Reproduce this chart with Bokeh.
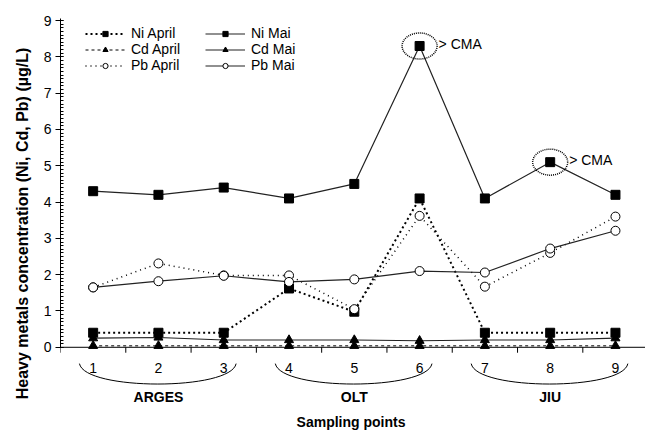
import math
from bokeh.plotting import figure
from bokeh.models import Range1d, Span, Title, Legend, LegendItem, FixedTicker
from bokeh.core.properties import value
from bokeh.embed import file_html
from bokeh.resources import INLINE

points = [1, 2, 3, 4, 5, 6, 7, 8, 9]
point_labels = ["1", "2", "3", "4", "5", "6", "7", "8", "9"]
ni_april = [0.4, 0.4, 0.4, 1.62, 0.98, 4.1, 0.4, 0.4, 0.4]
ni_mai = [4.3, 4.2, 4.4, 4.1, 4.5, 8.3, 4.1, 5.1, 4.2]
cd_april = [0.04, 0.04, 0.04, 0.04, 0.04, 0.04, 0.04, 0.04, 0.04]
cd_mai = [0.25, 0.27, 0.2, 0.2, 0.2, 0.18, 0.2, 0.2, 0.25]
pb_april = [1.65, 2.31, 1.98, 1.98, 1.05, 3.62, 1.67, 2.6, 3.6]
pb_mai = [1.65, 1.82, 1.97, 1.8, 1.87, 2.1, 2.06, 2.72, 3.21]
groups = ["ARGES", "OLT", "JIU"]
group_start = [1, 4, 7]
group_end = [3, 6, 9]
cma_points = [6, 8]
y_title = "Heavy metals concentration (Ni, Cd, Pb) (µg/L)"
x_title = "Sampling points"

FONT = "Liberation Sans"

p = figure(width=645, height=431, output_backend="svg", toolbar_location=None,
           x_range=Range1d(0.5, 9.46), y_range=Range1d(-2.32, 9.14),
           min_border_left=60, min_border_right=0, min_border_top=15,
           min_border_bottom=0)
p.outline_line_color = None
p.xgrid.visible = False
p.ygrid.visible = False
p.xaxis.visible = False

ya = p.yaxis[0]
ya.ticker = FixedTicker(ticks=list(range(0, 10)),
                        minor_ticks=[i / 10 for i in range(0, 91)])
ya.bounds = (0, 9.05)
ya.major_tick_out = 5
ya.major_tick_in = 3
ya.minor_tick_out = 0
ya.minor_tick_in = 3
ya.axis_line_color = "black"
ya.major_tick_line_color = "black"
ya.minor_tick_line_color = "black"
ya.major_label_text_font = FONT
ya.major_label_text_font_size = "14px"
ya.major_label_text_color = "black"
ya.major_label_standoff = 4

p.add_layout(Title(text=y_title, align="center", offset=37, text_font=FONT,
                   text_font_size="16px", text_font_style="bold",
                   text_color="black", standoff=20), "left")

# x axis line at 0 with category boundary ticks
p.add_layout(Span(location=0, dimension="width", line_color="black", line_width=1))
bounds_x = [pt - 0.5 for pt in points]
p.segment(x0=bounds_x, y0=[0] * len(bounds_x), x1=bounds_x, y1=[-0.15] * len(bounds_x),
          line_color="black", line_width=1)
p.text(x=points, y=[-0.56] * len(points), text=point_labels, text_align="center",
       text_baseline="middle", text_font=value(FONT), text_font_size="14px",
       text_color="black")

# braces
for s, e, g in zip(group_start, group_end, groups):
    x0 = s - 0.21
    x1 = e + 0.19
    p.bezier(x0=[x0], y0=[-0.45], x1=[x1], y1=[-0.45],
             cx0=[x0 + 0.08], cy0=[-1.2], cx1=[x1 - 0.08], cy1=[-1.2],
             line_color="black", line_width=1)
    p.text(x=[(s + e) / 2], y=[-1.38], text=[g], text_align="center",
           text_baseline="middle", text_font=value(FONT), text_font_size="14px",
           text_font_style="bold", text_color="black")

p.text(x=[4.95], y=[-2.05], text=[x_title], text_align="center", text_baseline="middle",
       text_font=value(FONT), text_font_size="14px", text_font_style="bold",
       text_color="black")

MS = 9
l_ni_a = p.line(points, ni_april, line_color="black", line_width=2, line_dash="2 3")
s_ni_a = p.scatter(points, ni_april, marker="square", size=MS, fill_color="black", line_color="black")
l_cd_a = p.line(points, cd_april, line_color="black", line_width=1, line_dash="3 3")
s_cd_a = p.scatter(points, cd_april, marker="triangle", size=MS, fill_color="black", line_color="black")
l_pb_a = p.line(points, pb_april, line_color="black", line_width=1.5, line_dash="1 4")
s_pb_a = p.scatter(points, pb_april, marker="circle", size=MS, fill_color="white", line_color="black")

l_ni_m = p.line(points, ni_mai, line_color="#222222", line_width=1.2)
s_ni_m = p.scatter(points, ni_mai, marker="square", size=MS, fill_color="black", line_color="black")
l_cd_m = p.line(points, cd_mai, line_color="#222222", line_width=1.2)
s_cd_m = p.scatter(points, cd_mai, marker="triangle", size=MS, fill_color="black", line_color="black")
l_pb_m = p.line(points, pb_mai, line_color="#222222", line_width=1.2)
s_pb_m = p.scatter(points, pb_mai, marker="circle", size=MS, fill_color="white", line_color="black")

# CMA marks
cma_y = [ni_mai[points.index(c)] for c in cma_points]
p.ellipse(x=cma_points, y=cma_y, width=35, height=26, width_units="screen",
          height_units="screen", fill_color=None, line_color="black",
          line_width=1.5, line_dash="1 1")
p.text(x=cma_points, y=cma_y, text=["> CMA"] * len(cma_points), x_offset=19,
       y_offset=-2, text_align="left", text_baseline="middle",
       text_font=value(FONT), text_font_size="14px", text_color="black")

legend = Legend(items=[
    LegendItem(label="Ni April", renderers=[l_ni_a, s_ni_a]),
    LegendItem(label="Cd April", renderers=[l_cd_a, s_cd_a]),
    LegendItem(label="Pb April", renderers=[l_pb_a, s_pb_a]),
    LegendItem(label="Ni Mai", renderers=[l_ni_m, s_ni_m]),
    LegendItem(label="Cd Mai", renderers=[l_cd_m, s_cd_m]),
    LegendItem(label="Pb Mai", renderers=[l_pb_m, s_pb_m]),
], ncols=2, location=(25, 358))
legend.border_line_color = None
legend.background_fill_alpha = 0
legend.margin = 0
legend.padding = 0
legend.glyph_width = 40
legend.glyph_height = 13
legend.label_height = 13
legend.label_width = 74
legend.label_standoff = 6
legend.spacing = -2
legend.label_text_font = FONT
legend.label_text_font_size = "14px"
legend.label_text_color = "black"
p.add_layout(legend)

open("out.html", "w").write(file_html(p, INLINE))
